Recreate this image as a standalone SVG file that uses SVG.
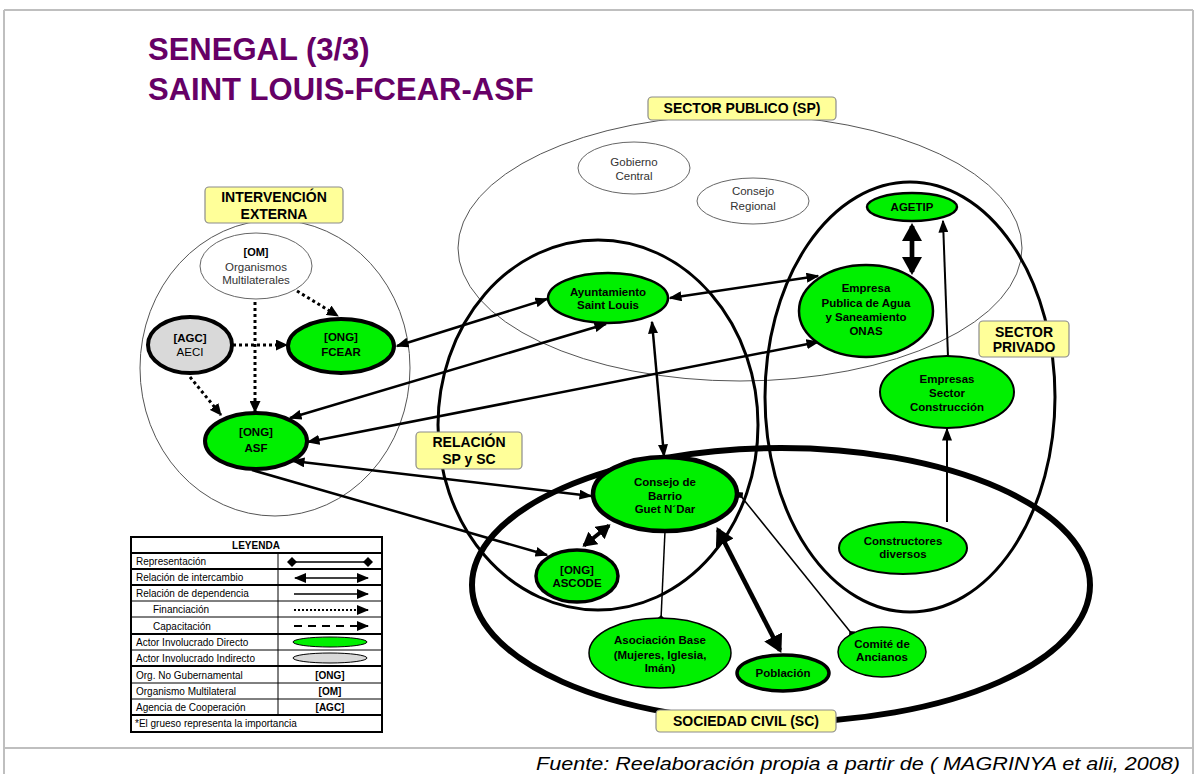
<svg xmlns="http://www.w3.org/2000/svg" width="1197" height="774" viewBox="0 0 1197 774">
<style>
.frame{stroke:#BFBFBF;stroke-width:2;fill:none}
.reg{fill:none}
.thin{stroke:#555;stroke-width:1}
.lab{fill:#FFFF99;stroke:#8C8C8C;stroke-width:1.2}
.lt{font-family:"Liberation Sans",Arial,sans-serif;font-weight:bold;font-size:14px;text-anchor:middle;fill:#000}
.g{fill:#00F000;stroke:#000}
.w{fill:#fff;stroke:#666;stroke-width:1}
.n{font-family:"Liberation Sans",Arial,sans-serif;font-weight:bold;font-size:11.5px;text-anchor:middle;fill:#000}
.nr{font-family:"Liberation Sans",Arial,sans-serif;font-size:11.5px;text-anchor:middle;fill:#333}
.c{fill:none;stroke:#000;stroke-width:2.5}
.dot{fill:none;stroke:#000;stroke-width:3;stroke-dasharray:3 3}
.le{font-family:"Liberation Sans",Arial,sans-serif;font-size:10px;fill:#000}
.title{font-family:"Liberation Sans",Arial,sans-serif;font-weight:bold;font-size:31px;fill:#660066}
</style>
<defs>
<marker id="a" viewBox="0 0 13 10" markerWidth="13" markerHeight="10" refX="11.5" refY="5" orient="auto-start-reverse" markerUnits="userSpaceOnUse"><path d="M0,0L13,5L0,10z"/></marker>
<marker id="big" viewBox="0 0 18 20" markerWidth="18" markerHeight="20" refX="15" refY="10" orient="auto-start-reverse" markerUnits="userSpaceOnUse"><path d="M0,0L18,10L0,20z"/></marker>
<marker id="mid" viewBox="0 0 14 16" markerWidth="14" markerHeight="16" refX="12" refY="8" orient="auto-start-reverse" markerUnits="userSpaceOnUse"><path d="M0,0L14,8L0,16z"/></marker>
<marker id="d" viewBox="0 0 12 11" markerWidth="12" markerHeight="11" refX="11" refY="5.5" orient="auto" markerUnits="userSpaceOnUse"><path d="M0,0L12,5.5L0,11z"/></marker>
<marker id="dia" viewBox="0 0 8 8" markerWidth="8" markerHeight="8" refX="4" refY="4" orient="auto" markerUnits="userSpaceOnUse"><path d="M0,4L4,0L8,4L4,8z"/></marker>
<marker id="la" viewBox="0 0 12 10" markerWidth="12" markerHeight="10" refX="11" refY="5" orient="auto-start-reverse" markerUnits="userSpaceOnUse"><path d="M0,0L12,5L0,10z"/></marker>
<marker id="ldia" viewBox="0 0 10 10" markerWidth="10" markerHeight="10" refX="5" refY="5" orient="auto" markerUnits="userSpaceOnUse"><path d="M0,5L5,0L10,5L5,10z"/></marker>
</defs>

<g id="frame">
<line class="frame" x1="4" y1="10" x2="1193" y2="10"/>
<line class="frame" x1="4" y1="10" x2="4" y2="774"/>
<line class="frame" x1="1193" y1="10" x2="1193" y2="774"/>
<line class="frame" x1="4" y1="748" x2="1193" y2="748"/>
</g>

<g id="title">
<text class="title" x="148" y="60">SENEGAL (3/3)</text>
<text class="title" x="148" y="100">SAINT LOUIS-FCEAR-ASF</text>
</g>

<g id="regions">
<ellipse id="reg-sp" class="reg thin" cx="740" cy="248" rx="282" ry="133"/>
<ellipse id="reg-ie" class="reg thin" cx="275" cy="368" rx="135" ry="148"/>
<ellipse id="reg-rel" class="reg" cx="598" cy="425" rx="160" ry="185" stroke="#000" stroke-width="3"/>
<ellipse id="reg-priv" class="reg" cx="910" cy="397" rx="145" ry="215" stroke="#000" stroke-width="3"/>
<ellipse id="reg-sc" class="reg" cx="781" cy="585" rx="309" ry="137" stroke="#000" stroke-width="6"/>
</g>

<g id="connectors">
<line class="dot" x1="297" y1="291" x2="338" y2="316" marker-end="url(#d)"/>
<line class="dot" x1="255" y1="302" x2="255" y2="412" marker-end="url(#d)"/>
<line class="dot" x1="233" y1="345" x2="287" y2="345" marker-end="url(#d)"/>
<line class="dot" x1="190" y1="377" x2="221" y2="415" marker-end="url(#d)"/>
<line class="c" x1="397" y1="346" x2="547" y2="299" marker-start="url(#a)" marker-end="url(#a)"/>
<line class="c" x1="290" y1="418" x2="606" y2="324" marker-start="url(#a)" marker-end="url(#a)"/>
<line class="c" x1="308" y1="442" x2="818" y2="342" marker-start="url(#a)" marker-end="url(#a)"/>
<line class="c" x1="670" y1="298" x2="818" y2="276" marker-start="url(#a)" marker-end="url(#a)"/>
<line class="c" x1="652" y1="322" x2="664" y2="456" marker-start="url(#a)" marker-end="url(#a)"/>
<line class="c" x1="293" y1="461" x2="591" y2="496" marker-start="url(#a)" marker-end="url(#a)"/>
<line class="c" x1="252" y1="470" x2="547" y2="555" marker-end="url(#a)"/>
<line fill="none" stroke="#000" stroke-width="4" x1="584" y1="545.5" x2="609" y2="525.5" marker-start="url(#mid)" marker-end="url(#mid)"/>
<line fill="none" stroke="#000" stroke-width="4.5" x1="718" y1="529.6" x2="780" y2="650.4" marker-start="url(#big)" marker-end="url(#big)"/>
<line fill="none" stroke="#000" stroke-width="1.5" x1="665" y1="531" x2="661" y2="619" marker-end="url(#dia)"/>
<line fill="none" stroke="#000" stroke-width="1.5" x1="740" y1="495" x2="852" y2="634" marker-start="url(#dia)" marker-end="url(#dia)"/>
<line fill="none" stroke="#000" stroke-width="4.7" x1="912" y1="226" x2="912" y2="272" marker-start="url(#big)" marker-end="url(#big)"/>
<line fill="none" stroke="#000" stroke-width="2" x1="948" y1="357" x2="943" y2="221" marker-end="url(#a)"/>
<line fill="none" stroke="#000" stroke-width="2" x1="947" y1="522" x2="947" y2="429" marker-end="url(#a)"/>
</g>

<g id="n-gob"><ellipse class="w" cx="634" cy="168" rx="56" ry="26"/><text class="nr" x="634" y="166">Gobierno</text><text class="nr" x="634" y="180">Central</text></g>
<g id="n-creg"><ellipse class="w" cx="753" cy="201" rx="56" ry="23"/><text class="nr" x="753" y="195">Consejo</text><text class="nr" x="753" y="210">Regional</text></g>
<g id="n-om"><ellipse class="w" cx="256" cy="266" rx="56" ry="33"/><text class="n" x="256" y="256" style="font-size:11px">[OM]</text><text class="nr" x="256" y="271">Organismos</text><text class="nr" x="256" y="284">Multilaterales</text></g>
<g id="n-aeci"><ellipse cx="190" cy="345" rx="42" ry="28" fill="#D9D9D9" stroke="#000" stroke-width="4"/><text class="n" x="190" y="342">[AGC]</text><text class="nr" x="190" y="356" style="fill:#000">AECI</text></g>
<g id="n-fcear"><ellipse class="g" cx="341" cy="346" rx="53" ry="27" stroke-width="4"/><text class="n" x="341" y="341">[ONG]</text><text class="n" x="341" y="356">FCEAR</text></g>
<g id="n-asf"><ellipse class="g" cx="256" cy="441" rx="51" ry="28" stroke-width="4"/><text class="n" x="256" y="436">[ONG]</text><text class="n" x="256" y="452">ASF</text></g>
<g id="n-ayunt"><ellipse class="g" cx="608" cy="298" rx="60" ry="25" stroke-width="2.5"/><text class="n" x="608" y="296">Ayuntamiento</text><text class="n" x="608" y="309">Saint Louis</text></g>
<g id="n-onas"><ellipse class="g" cx="866" cy="311" rx="67" ry="46" stroke-width="2.5"/><text class="n" x="866" y="292">Empresa</text><text class="n" x="866" y="307">Publica de Agua</text><text class="n" x="866" y="321">y Saneamiento</text><text class="n" x="866" y="335">ONAS</text></g>
<g id="n-agetip"><ellipse class="g" cx="912" cy="207" rx="45" ry="14" stroke-width="2.5"/><text class="n" x="912" y="211">AGETIP</text></g>
<g id="n-emp"><ellipse class="g" cx="947" cy="392" rx="67" ry="36" stroke-width="2"/><text class="n" x="947" y="383">Empresas</text><text class="n" x="947" y="397">Sector</text><text class="n" x="947" y="411">Construcción</text></g>
<g id="n-constr"><ellipse class="g" cx="903" cy="548" rx="64" ry="26" stroke-width="2"/><text class="n" x="903" y="545">Constructores</text><text class="n" x="903" y="558">diversos</text></g>
<g id="n-consejo"><ellipse class="g" cx="665" cy="494" rx="72" ry="37" stroke-width="4.5"/><text class="n" x="665" y="486">Consejo de</text><text class="n" x="665" y="500">Barrio</text><text class="n" x="665" y="513">Guet N´Dar</text></g>
<g id="n-ascode"><ellipse class="g" cx="577" cy="576" rx="41" ry="26" stroke-width="3.5"/><text class="n" x="577" y="574">[ONG]</text><text class="n" x="577" y="587">ASCODE</text></g>
<g id="n-asoc"><ellipse class="g" cx="660" cy="653" rx="71" ry="35" stroke-width="1.5"/><text class="n" x="660" y="644">Asociación Base</text><text class="n" x="660" y="659">(Mujeres, Iglesia,</text><text class="n" x="660" y="672">Imán)</text></g>
<g id="n-pob"><ellipse class="g" cx="783" cy="673" rx="46" ry="18" stroke-width="3.5"/><text class="n" x="783" y="677">Población</text></g>
<g id="n-comite"><ellipse class="g" cx="882" cy="652" rx="44" ry="25" stroke-width="1.5"/><text class="n" x="882" y="648">Comité de</text><text class="n" x="882" y="661">Ancianos</text></g>

<g id="labels">
<rect class="lab" x="648" y="97" width="188" height="23" rx="4"/><text class="lt" x="742" y="113">SECTOR PUBLICO (SP)</text>
<rect class="lab" x="205" y="187" width="138" height="36" rx="4"/><text class="lt" x="274" y="202">INTERVENCIÓN</text><text class="lt" x="274" y="219">EXTERNA</text>
<rect class="lab" x="416" y="432" width="106" height="37" rx="4"/><text class="lt" x="469" y="447">RELACIÓN</text><text class="lt" x="469" y="464">SP y SC</text>
<rect class="lab" x="979" y="321" width="90" height="36" rx="4"/><text class="lt" x="1024" y="337">SECTOR</text><text class="lt" x="1024" y="352">PRIVADO</text>
<rect class="lab" x="656" y="710" width="180" height="22" rx="4"/><text class="lt" x="746" y="726">SOCIEDAD CIVIL (SC)</text>
</g>

<g id="legend">
<rect x="131" y="537" width="251" height="195" fill="#fff" stroke="#000" stroke-width="2"/>
<line x1="278" y1="553" x2="278" y2="715" stroke="#000" stroke-width="1"/>
<g stroke="#000">
<line x1="131" y1="553" x2="382" y2="553" stroke-width="2"/>
<line x1="131" y1="569" x2="382" y2="569" stroke-width="2"/>
<line x1="131" y1="585" x2="382" y2="585" stroke-width="2"/>
<line x1="131" y1="601" x2="382" y2="601" stroke-width="1"/>
<line x1="131" y1="617" x2="382" y2="617" stroke-width="1"/>
<line x1="131" y1="634" x2="382" y2="634" stroke-width="2"/>
<line x1="131" y1="650" x2="382" y2="650" stroke-width="1"/>
<line x1="131" y1="666" x2="382" y2="666" stroke-width="2"/>
<line x1="131" y1="683" x2="382" y2="683" stroke-width="1"/>
<line x1="131" y1="699" x2="382" y2="699" stroke-width="1"/>
<line x1="131" y1="715" x2="382" y2="715" stroke-width="2"/>
</g>
<text class="le" x="256" y="549" text-anchor="middle" font-weight="bold">LEYENDA</text>
<text class="le" x="136" y="565">Representación</text>
<text class="le" x="136" y="581">Relación de intercambio</text>
<text class="le" x="136" y="597">Relación de dependencia</text>
<text class="le" x="153" y="613">Financiación</text>
<text class="le" x="153" y="630">Capacitación</text>
<text class="le" x="136" y="646">Actor Involucrado Directo</text>
<text class="le" x="136" y="662">Actor Involucrado Indirecto</text>
<text class="le" x="136" y="679">Org. No Gubernamental</text>
<text class="le" x="136" y="695">Organismo Multilateral</text>
<text class="le" x="136" y="711">Agencia de Cooperación</text>
<text class="le" x="135" y="727">*El grueso representa la importancia</text>
<line x1="292" y1="562" x2="368" y2="562" stroke="#000" stroke-width="1.5" marker-start="url(#ldia)" marker-end="url(#ldia)"/>
<line x1="295" y1="578" x2="368" y2="578" stroke="#000" stroke-width="1.5" marker-start="url(#la)" marker-end="url(#la)"/>
<line x1="294" y1="594" x2="368" y2="594" stroke="#000" stroke-width="1.5" marker-end="url(#la)"/>
<line x1="294" y1="610" x2="368" y2="610" stroke="#000" stroke-width="2" stroke-dasharray="2 2" marker-end="url(#la)"/>
<line x1="294" y1="626" x2="368" y2="626" stroke="#000" stroke-width="2" stroke-dasharray="8 6" marker-end="url(#la)"/>
<ellipse cx="330" cy="642" rx="37" ry="5" fill="#00F000" stroke="#000" stroke-width="1"/>
<ellipse cx="330" cy="658" rx="37" ry="5" fill="#D9D9D9" stroke="#000" stroke-width="1"/>
<text class="le" x="330" y="679" text-anchor="middle" font-weight="bold">[ONG]</text>
<text class="le" x="330" y="695" text-anchor="middle" font-weight="bold">[OM]</text>
<text class="le" x="330" y="711" text-anchor="middle" font-weight="bold">[AGC]</text>
</g>

<g id="footer">
<text x="1180" y="770" text-anchor="end" font-family="'Liberation Sans',Arial,sans-serif" font-style="italic" font-size="19" textLength="644" lengthAdjust="spacingAndGlyphs" fill="#000">Fuente: Reelaboración propia a partir de ( MAGRINYA et alii, 2008)</text>
</g>
</svg>
